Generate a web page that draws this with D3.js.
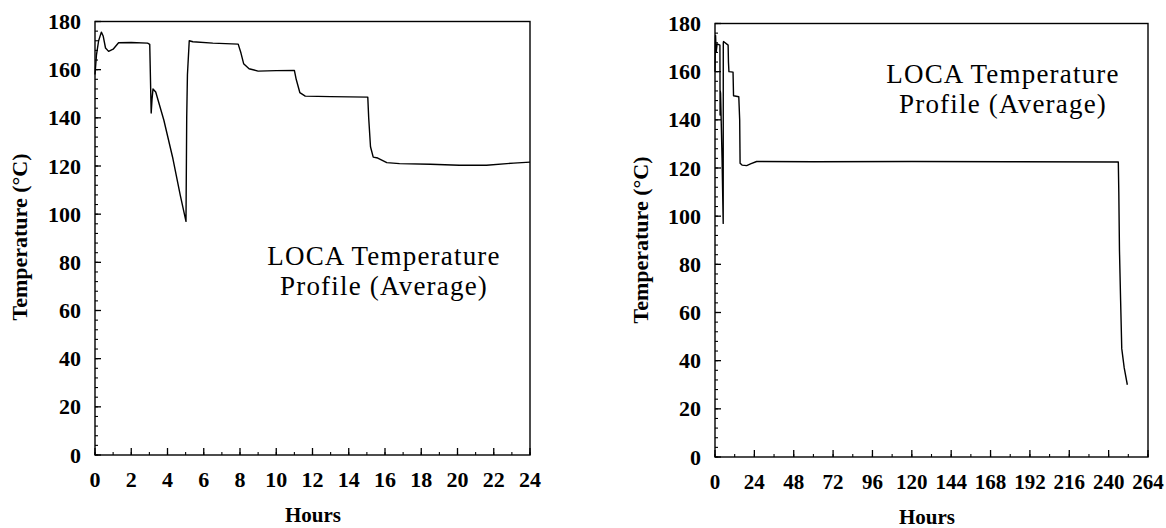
<!DOCTYPE html>
<html>
<head>
<meta charset="utf-8">
<script src="https://cdn.jsdelivr.net/npm/d3@7"></script>
<style>
  html, body { margin: 0; padding: 0; background: #fff; }
  svg { display: block; }
  text { font-family: "Liberation Serif", "DejaVu Serif", serif; fill: #000; }
</style>
</head>
<body>
<svg id="chart" width="1166" height="528"></svg>
<script>
// ---------------- data ----------------
const leftHours = [0, 0.08, 0.2, 0.35, 0.45, 0.58, 0.75, 1.0, 1.3, 2.0, 2.9, 3.02, 3.1, 3.15, 3.2, 3.35, 3.8, 4.3, 4.7, 5.02, 5.06, 5.1, 5.2, 5.4, 6.5, 7.9, 8.05, 8.2, 8.5, 9.0, 10.0, 11.0, 11.1, 11.3, 11.6, 13.0, 15.05, 15.1, 15.2, 15.35, 15.6, 16.1, 16.8, 18.5, 20.1, 21.6, 23.1, 24];
const leftTemps = [158, 166, 172, 175.6, 174, 169, 167.6, 168.5, 171.2, 171.3, 171, 170.5, 142, 148, 152, 150.7, 139, 123, 108, 97, 140, 158, 172, 171.6, 171, 170.6, 167, 162.5, 160.4, 159.4, 159.6, 159.7, 156, 150.5, 149, 148.8, 148.6, 140, 128, 123.7, 123.3, 121.4, 121, 120.7, 120.3, 120.3, 121.2, 121.6];

const rightHours = [0, 0.2, 0.35, 0.7, 1.3, 3.0, 3.1, 3.2, 3.4, 4.3, 5.0, 5.05, 5.2, 8.0, 8.2, 8.5, 11.0, 11.3, 14.5, 15.05, 15.3, 16.5, 19.3, 22, 25.4, 60, 120, 180, 245.9, 246.2, 246.6, 247.3, 248.0, 249.5, 251.4];
const rightTemps = [160, 172, 175, 168, 171.5, 171, 142, 152, 151, 124, 97, 172, 172.5, 171, 164, 160, 159.8, 150, 149.6, 140, 122, 121.2, 121, 121.8, 122.7, 122.6, 122.7, 122.6, 122.5, 110, 86, 65, 45, 37, 30];

const leftXTicks = [0, 2, 4, 6, 8, 10, 12, 14, 16, 18, 20, 22, 24];
const rightXTicks = [0, 24, 48, 72, 96, 120, 144, 168, 192, 216, 240, 264];
const yTicks = [0, 20, 40, 60, 80, 100, 120, 140, 160, 180];

const yTitle = "Temperature (\u00B0C)";
const xTitle = "Hours";
const noteLines = ["LOCA Temperature", "Profile (Average)"];

// ---------------- drawing ----------------
const svg = d3.select("#chart");

function panel(cfg) {
  const x = d3.scaleLinear().domain([0, cfg.xMax]).range([cfg.left, cfg.right]);
  const y = d3.scaleLinear().domain([0, 180]).range([cfg.bottom, cfg.top]);
  const g = svg.append("g");

  // frame
  g.append("rect")
    .attr("x", cfg.left).attr("y", cfg.top)
    .attr("width", cfg.right - cfg.left).attr("height", cfg.bottom - cfg.top)
    .attr("fill", "none").attr("stroke", "#000").attr("stroke-width", 1.4);

  // y minor ticks (inward)
  const yMinor = d3.range(0, 181, 4);
  g.selectAll(".ymin").data(yMinor).join("line")
    .attr("x1", cfg.left).attr("x2", cfg.left + 3)
    .attr("y1", d => y(d)).attr("y2", d => y(d))
    .attr("stroke", "#000").attr("stroke-width", 1.1);
  g.selectAll(".ymaj").data(yTicks).join("line")
    .attr("x1", cfg.left).attr("x2", cfg.left + 6)
    .attr("y1", d => y(d)).attr("y2", d => y(d))
    .attr("stroke", "#000").attr("stroke-width", 1.3);
  g.selectAll(".ylab").data(yTicks).join("text")
    .attr("x", cfg.left - 14).attr("y", d => y(d) + 7.5)
    .attr("text-anchor", "end")
    .attr("font-size", 22).attr("font-weight", "bold")
    .text(d => d);

  // x ticks (inward, upward)
  const xMinor = d3.range(0, cfg.xMax + 0.001, cfg.xMinorStep);
  g.selectAll(".xmin").data(xMinor).join("line")
    .attr("x1", d => x(d)).attr("x2", d => x(d))
    .attr("y1", cfg.bottom).attr("y2", cfg.bottom - 3)
    .attr("stroke", "#000").attr("stroke-width", 1.1);
  g.selectAll(".xmaj").data(cfg.xTicks).join("line")
    .attr("x1", d => x(d)).attr("x2", d => x(d))
    .attr("y1", cfg.bottom).attr("y2", cfg.bottom - 7)
    .attr("stroke", "#000").attr("stroke-width", 1.3);
  g.selectAll(".xlab").data(cfg.xTicks).join("text")
    .attr("x", d => x(d)).attr("y", cfg.bottom + 32)
    .attr("text-anchor", "middle")
    .attr("font-size", cfg.xFont).attr("font-weight", "bold")
    .text(d => d);

  // titles
  g.append("text")
    .attr("x", cfg.xTitleX).attr("y", cfg.bottom + 67)
    .attr("text-anchor", "middle")
    .attr("font-size", 21).attr("font-weight", "bold")
    .text(xTitle);
  g.append("text")
    .attr("transform", `translate(${cfg.yTitleX},${cfg.yTitleY}) rotate(-90)`)
    .attr("text-anchor", "middle")
    .attr("font-size", 22).attr("font-weight", "bold")
    .text(yTitle);

  // data line
  const line = d3.line().x(d => x(d[0])).y(d => y(d[1]));
  g.append("path")
    .datum(d3.zip(cfg.hours, cfg.temps))
    .attr("d", line)
    .attr("fill", "none").attr("stroke", "#000").attr("stroke-width", 1.4)
    .attr("stroke-linejoin", "round");

  // annotation
  g.append("text")
    .attr("x", cfg.noteX).attr("y", cfg.noteY)
    .attr("text-anchor", "middle")
    .attr("font-size", 27).attr("letter-spacing", 1.2)
    .selectAll("tspan").data(noteLines).join("tspan")
    .attr("x", cfg.noteX).attr("dy", (d, i) => i === 0 ? 0 : 30)
    .text(d => d);
}

panel({
  left: 95, right: 530, top: 21.5, bottom: 455, xMax: 24, xMinorStep: 1,
  xTicks: leftXTicks, hours: leftHours, temps: leftTemps, xFont: 22,
  xTitleX: 313, yTitleX: 27, yTitleY: 237, noteX: 384, noteY: 265
});
panel({
  left: 715, right: 1148, top: 23.5, bottom: 457, xMax: 264, xMinorStep: 12,
  xTicks: rightXTicks, hours: rightHours, temps: rightTemps, xFont: 21,
  xTitleX: 927, yTitleX: 648, yTitleY: 240, noteX: 1003, noteY: 83
});
</script>
</body>
</html>
